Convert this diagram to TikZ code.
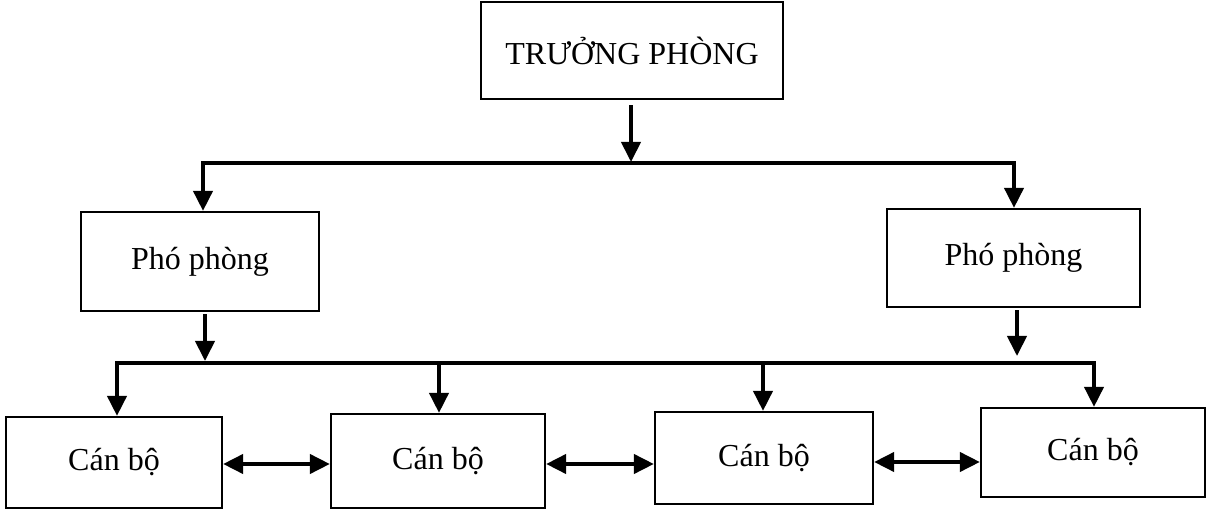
\documentclass[tikz,border=0pt]{standalone}
\usepackage{fontspec}
\setmainfont{Liberation Serif}
\usetikzlibrary{arrows.meta}
\tikzset{
  box/.style={draw, line width=2.2pt, inner sep=0pt, font=\fontsize{32}{36}\selectfont},
  tipshape/.tip={Triangle[length=20pt 0 1,width=19pt 0 1]},
  conn/.style={line width=4pt, line join=miter},
  arr/.style={conn, -tipshape},
  arrb/.style={conn, tipshape-tipshape}
}
\begin{document}
\begin{tikzpicture}[x=1pt,y=-1pt]
\useasboundingbox (0,0) rectangle (1208,510);
% boxes
\node[box, minimum width=302pt, minimum height=97pt] (top) at (632,50.5) {TRƯỞNG PHÒNG};
\node[box, minimum width=238pt, minimum height=99pt] (ppl) at (200,261.5) {Phó phòng};
\node[box, minimum width=253pt, minimum height=98pt] (ppr) at (1013.5,258) {Phó phòng};
\node[box, minimum width=216pt, minimum height=91pt] (cb1) at (114,462.5) {Cán bộ};
\node[box, minimum width=214pt, minimum height=94pt] (cb2) at (438,461) {Cán bộ};
\node[box, minimum width=218pt, minimum height=92pt] (cb3) at (764,458) {Cán bộ};
\node[box, minimum width=224pt, minimum height=89pt] (cb4) at (1093,452.5) {Cán bộ};
% junction coordinates
\coordinate (j1) at (631,162);
\coordinate (b1) at (203,163);
\coordinate (b2) at (1014,163);
\coordinate (j2) at (205,361);
\coordinate (j3) at (1017,356);
\coordinate (c1) at (117,363);
\coordinate (c2) at (439,363);
\coordinate (c3) at (763,363);
\coordinate (c4) at (1094,363);
% top level
\draw[arr] ([yshift=-5pt]top.south -| j1) -- (j1);
\draw[arrb] (b1 |- ppl.north) -- (b1) -- (b2) -- (b2 |- ppr.north);
% from deputies
\draw[arr] ([yshift=-2pt]ppl.south -| j2) -- (j2);
\draw[arr] ([yshift=-2pt]ppr.south -| j3) -- (j3);
% bottom bus
\draw[arrb] (c1 |- cb1.north) -- (c1) -- (c4) -- (c4 |- cb4.north);
\draw[arr] (c2) -- (c2 |- cb2.north);
\draw[arr] (c3) -- (c3 |- cb3.north);
% peer arrows
\draw[arrb] ([yshift=-1.5pt]cb1.east) -- ([yshift=-1.5pt]cb1.east -| cb2.west);
\draw[arrb] ([yshift=-3pt]cb2.east) -- ([yshift=-3pt]cb2.east -| cb3.west);
\draw[arrb] ([yshift=-4pt]cb3.east) -- ([yshift=-4pt]cb3.east -| cb4.west);
\end{tikzpicture}
\end{document}
